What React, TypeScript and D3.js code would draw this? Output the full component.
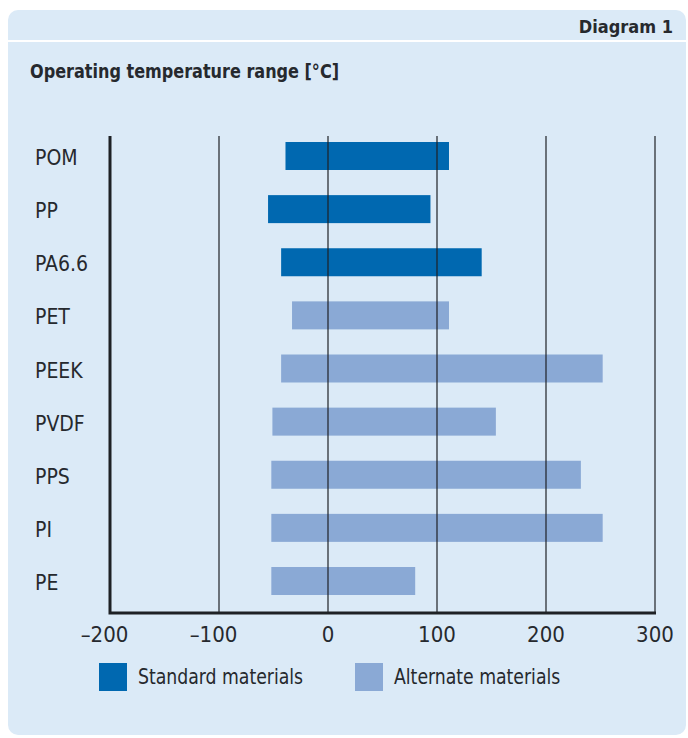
import React from 'react';
import * as d3 from 'd3';

const materials = ['POM', 'PP', 'PA6.6', 'PET', 'PEEK', 'PVDF', 'PPS', 'PI', 'PE'];
const minTemps = [-39, -55, -43, -33, -43, -51, -52, -52, -52];
const maxTemps = [111, 94, 141, 111, 252, 154, 232, 252, 80];
const groups = ['standard', 'standard', 'standard', 'alternate', 'alternate', 'alternate', 'alternate', 'alternate', 'alternate'];
const xTicks = [-200, -100, 0, 100, 200, 300];
const legendItems = [
  { key: 'standard', label: 'Standard materials' },
  { key: 'alternate', label: 'Alternate materials' },
];

const W = 688;
const H = 738;
const colors: Record<string, string> = { standard: '#0068b0', alternate: '#8aa9d5' };
const ink = '#26292e';
const font = "'DejaVu Sans', sans-serif";

const App: React.FC = () => {
  const x = d3.scaleLinear().domain([-200, 300]).range([110, 655]);
  const y = d3.scalePoint<string>().domain(materials).range([156, 581]);
  const barH = 28;
  const plotTop = 136;
  const plotBottom = 613;

  const fmt = (v: number) => (v < 0 ? '\u2013' + Math.abs(v) : String(v));

  return (
    <svg width={W} height={H} style={{ position: 'absolute', left: 0, top: 0 }}>
      <rect x={8} y={10} width={678} height={725} rx={10} fill="#dbeaf7" />
      <rect x={8} y={40} width={678} height={2} fill="#ffffff" />
      <text x={673} y={33} textAnchor="end" fontFamily={font} fontStretch="condensed" fontWeight="bold" fontSize={18} fill={ink}>
        Diagram 1
      </text>
      {/* title squeezed a little to mimic the narrow source font */}
      <g transform="translate(30,78) scale(0.94,1)">
        <text fontFamily={font} fontStretch="condensed" fontWeight="bold" fontSize={19} fill={ink}>
          Operating temperature range [°C]
        </text>
      </g>

      {/* bars */}
      {materials.map((m, i) => (
        <rect
          key={m}
          x={x(minTemps[i])}
          y={(y(m) as number) - barH / 2}
          width={x(maxTemps[i]) - x(minTemps[i])}
          height={barH}
          fill={colors[groups[i]]}
        />
      ))}

      {/* grid lines over bars */}
      {xTicks.filter(t => t > -200).map(t => (
        <line key={t} x1={x(t)} x2={x(t)} y1={plotTop} y2={plotBottom} stroke="#1e2125" strokeWidth={1.2} />
      ))}

      {/* axes */}
      <path
        d={`M${x(-200)},${plotTop} V${plotBottom} H${x(300) + 1}`}
        fill="none"
        stroke="#1e2125"
        strokeWidth={3}
      />

      {/* category labels */}
      {materials.map(m => (
        <text key={m} x={35} y={(y(m) as number) + 9} fontFamily={font} fontStretch="condensed" fontSize={21} fill={ink}>
          {m}
        </text>
      ))}

      {/* tick labels */}
      {xTicks.map(t => (
        <text
          key={t}
          x={x(t)}
          dx={t < 0 ? -5.5 : 0}
          y={642}
          textAnchor="middle"
          fontFamily={font}
          fontStretch="condensed"
          fontSize={22}
          fill={ink}
        >
          {fmt(t)}
        </text>
      ))}

      {/* legend */}
      {legendItems.map((item, i) => (
        <g key={item.key} transform={`translate(${99 + i * 256},663)`}>
          <rect width={28} height={28} fill={colors[item.key]} />
          <g transform="translate(39,21) scale(0.915,1)">
            <text fontFamily={font} fontStretch="condensed" fontSize={21} fill={ink}>
              {item.label}
            </text>
          </g>
        </g>
      ))}
    </svg>
  );
};

export default App;
